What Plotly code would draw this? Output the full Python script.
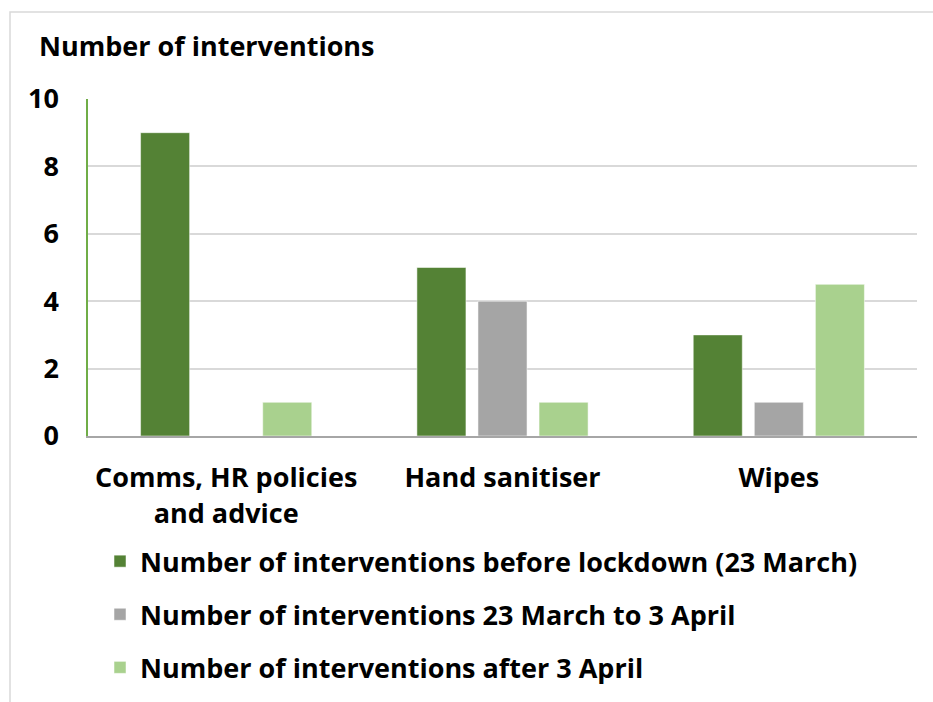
import plotly.graph_objects as go

categories = ["Comms, HR policies<br>and advice", "Hand sanitiser", "Wipes"]
series_names = [
    "Number of interventions before lockdown (23 March)",
    "Number of interventions 23 March to 3 April",
    "Number of interventions after 3 April",
]
before_lockdown = [9, 5, 3]
march_to_april = [0, 4, 1]
after_april = [1, 1, 4.5]
colors = ["#548235", "#A5A5A5", "#A9D18E"]
y_ticks = [0, 2, 4, 6, 8, 10]

FONT = "Open Sans"
FS = 27

fig = go.Figure()
for i, (name, vals) in enumerate(zip(series_names, [before_lockdown, march_to_april, after_april])):
    fig.add_trace(go.Bar(
        x=categories, y=vals, name=name,
        marker=dict(color=colors[i], line=dict(color="rgba(255,255,255,0.5)", width=1)),
        legendgroup=f"g{i}",
    ))

fig.update_layout(
    width=933, height=702,
    margin=dict(l=88, r=16, t=99, b=266, autoexpand=False),
    paper_bgcolor="white", plot_bgcolor="white",
    barmode="group", bargap=0.337, bargroupgap=0.197,
    font=dict(family=FONT, color="black", size=FS),
    showlegend=True,
    legend=dict(
        orientation="v", x=0.0145, xanchor="left", y=-0.300, yanchor="top",
        font=dict(family=FONT, size=FS, color="black", weight="bold"),
        tracegroupgap=15, bgcolor="rgba(0,0,0,0)",
    ),
    xaxis=dict(
        showgrid=False, showline=True, linecolor="#A6A6A6", linewidth=2,
        ticks="", ticklabelstandoff=17,
        tickfont=dict(family=FONT, size=FS, color="black", weight="bold"),
    ),
    yaxis=dict(
        range=[0, 10], tickvals=y_ticks, showgrid=True, gridcolor="#D9D9D9", gridwidth=2,
        showline=True, linecolor="#70AD47", linewidth=1.5, zeroline=False,
        ticks="", ticklabelstandoff=22,
        tickfont=dict(family=FONT, size=FS, color="black", weight="bold"),
    ),
    shapes=[dict(
        type="rect", xref="paper", yref="paper",
        x0=(10 - 88) / 829, x1=1.2, y0=-1.0, y1=(436 - 12) / 337,
        line=dict(color="#D9D9D9", width=1.5), fillcolor="rgba(0,0,0,0)", layer="below",
    )],
    annotations=[dict(
        text="Number of interventions", xref="paper", yref="paper",
        x=(37 - 88) / 829, y=(436 - 45) / 337, xanchor="left", yanchor="middle",
        showarrow=False, font=dict(family=FONT, size=FS, color="black", weight="bold"),
    )],
)

fig.write_html("out.html", config={"displayModeBar": False},
               post_script="document.body.style.margin='0';")
